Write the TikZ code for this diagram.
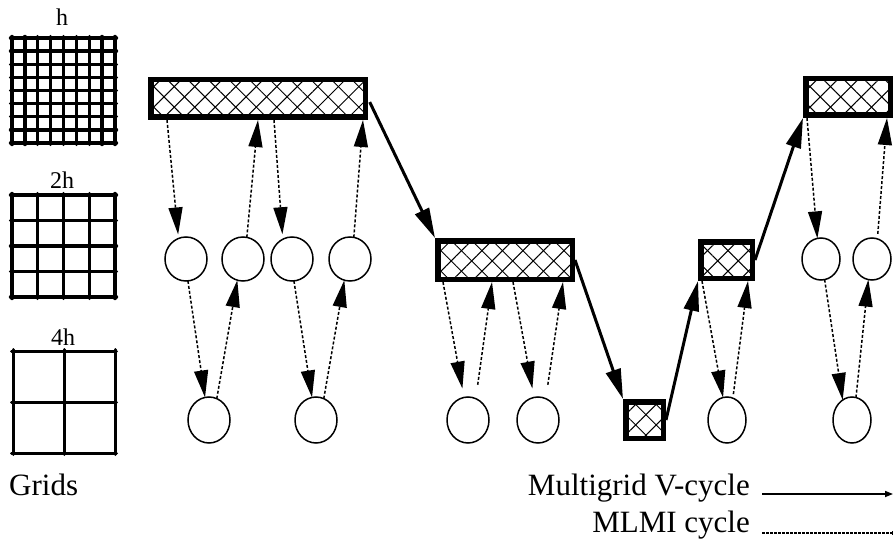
\documentclass[tikz,border=0pt]{standalone}
\usepackage{fontspec}
\setmainfont{Liberation Serif}
\usetikzlibrary{arrows.meta,patterns.meta,shapes.geometric,calc}
\begin{document}
\begin{tikzpicture}[x=1pt,y=-1pt,
  hatchbox/.style={draw, line width=5.5pt, inner sep=0pt, outer sep=2.75pt, rectangle,
     preaction={pattern={Lines[angle=45,distance=14.5pt,line width=1pt]}},
     pattern={Lines[angle=-45,distance=14.5pt,line width=1pt]}},
  level/.style={draw, ellipse, line width=1.5pt, inner sep=0pt, outer sep=0pt, minimum width=42pt, minimum height=44pt},
  levelr/.style={level, minimum width=38pt},
  mlmi/.style={line width=1.5pt, dash pattern=on 3pt off 2pt, -{Triangle[length=27pt,width=14pt]}},
  vcyc/.style={line width=3pt, -{Triangle[length=30pt,width=15pt]}},
  gridline/.style={line width=3.4pt, line cap=round},
  lbl/.style={font=\fontsize{24pt}{26pt}\selectfont, inner sep=0pt},
  biglbl/.style={font=\fontsize{31pt}{34pt}\selectfont, inner sep=0pt}
]
\useasboundingbox (0,0) rectangle (894,548);

% grid labels
\node[lbl] (th) at (62,17) {h};
\node[lbl] (t2h) at (62,180) {2h};
\node[lbl] (t4h) at (63,337) {4h};
\node[biglbl, anchor=base west] (tgrids) at (9,495) {Grids};

% grids
\foreach \i in {0,...,8} {
  \draw[gridline] ({12+\i*103/8},36.5) -- ({12+\i*103/8},144.5);
  \draw[gridline] (10.5,{38+\i*105/8}) -- (116.5,{38+\i*105/8});
}
\foreach \i in {0,...,4} {
  \draw[gridline] ({12+\i*103/4},193.5) -- ({12+\i*103/4},298.5);
  \draw[gridline] (10.5,{195+\i*102/4}) -- (116.5,{195+\i*102/4});
}
\foreach \i in {0,...,2} {
  \draw[gridline, line width=3pt] ({13+\i*102/2},349.5) -- ({13+\i*102/2},454.5);
  \draw[gridline, line width=3pt] (11.5,{351+\i*102/2}) -- (116.5,{351+\i*102/2});
}

% boxes
\node[hatchbox, minimum width=214.5pt, minimum height=37.5pt] (B1) at (258,98.5) {};
\node[hatchbox, minimum width=134.5pt, minimum height=38.5pt] (B2) at (505,260) {};
\node[hatchbox, minimum width=37.5pt, minimum height=36.5pt] (B3) at (644.5,420) {};
\node[hatchbox, minimum width=51.5pt, minimum height=36.5pt] (B4) at (726.5,260) {};
\node[hatchbox, minimum width=84.5pt, minimum height=36.5pt] (B5) at (848,97) {};

% circles
\node[level] (a1) at (186,259) {};
\node[level] (a2) at (243,259) {};
\node[level] (a3) at (292,259) {};
\node[level] (a4) at (350,259) {};
\node[level, minimum height=46pt] (b1) at (209,420) {};
\node[level, minimum height=46pt] (b2) at (316,420) {};
\node[level, minimum height=46pt] (b3) at (468,420) {};
\node[level, minimum height=46pt] (b4) at (538,420) {};
\node[levelr, minimum height=46pt] (b5) at (727,420) {};
\node[levelr, minimum height=42pt] (a5) at (821,259) {};
\node[levelr, minimum height=42pt] (a6) at (872,259) {};
\node[levelr, minimum height=46pt] (b6) at (852,420) {};

% MLMI (dotted) arrows
\draw[mlmi, shorten >=4pt] ([xshift=19pt]B1.south west) -- (a1.110);
\draw[mlmi] (a2.80) -- ([xshift=110pt]B1.south west);
\draw[mlmi, shorten >=5pt] ([xshift=126pt]B1.south west) -- (a3.115);
\draw[mlmi] (a4.80) -- ([xshift=-5pt]B1.south east);
\draw[mlmi] (a1.-85) -- (b1.100);
\draw[mlmi] (b1.70) -- (a2.-105);
\draw[mlmi] (a3.-85) -- (b2.100);
\draw[mlmi] (b2.70) -- (a4.-105);

\draw[mlmi, shorten >=9pt] ([xshift=8pt]B2.south west) -- (b3.100);
\draw[mlmi, shorten <=14pt] (b3.70) -- ([xshift=57pt]B2.south west);
\draw[mlmi, shorten >=9pt] ([xshift=78pt]B2.south west) -- (b4.100);
\draw[mlmi, shorten <=14pt] (b4.70) -- ([xshift=-12pt]B2.south east);

\draw[mlmi] ([xshift=4pt]B4.south west) -- (b5.100);
\draw[mlmi, shorten <=4pt] (b5.75) -- ([xshift=-7pt]B4.south east);

\draw[mlmi] ([xshift=4pt]B5.south west) -- (a5.100);
\draw[mlmi, shorten <=5pt] (a6.75) -- ([xshift=-6pt]B5.south east);
\draw[mlmi] (a5.-80) -- (b6.115);
\draw[mlmi] (b6.80) -- (a6.-100);

% V-cycle (solid) arrows
\draw[vcyc, shorten <=4pt] (B1.east) -- (B2.north west);
\draw[vcyc] (B2.east) -- (B3.north west);
\draw[vcyc] (B3.east) -- (B4.south west);
\draw[vcyc] (B4.east) -- (B5.south west);

% legend
\node[biglbl, anchor=base east] (tv) at (750,495) {Multigrid V-cycle};
\node[biglbl, anchor=base east] (tm) at (750,532) {MLMI cycle};
\coordinate (l1s) at (762,494);
\coordinate (l1e) at (893,494);
\coordinate (l2s) at (762,533);
\coordinate (l2e) at (893,533);
\draw[line width=1.6pt, -{Triangle[length=8pt,width=6pt]}] (l1s) -- (l1e);
\draw[line width=1.3pt, dash pattern=on 2.5pt off 1.5pt, -{Bar[width=4pt,line width=1pt]}] (l2s) -- (l2e);
\end{tikzpicture}
\end{document}
